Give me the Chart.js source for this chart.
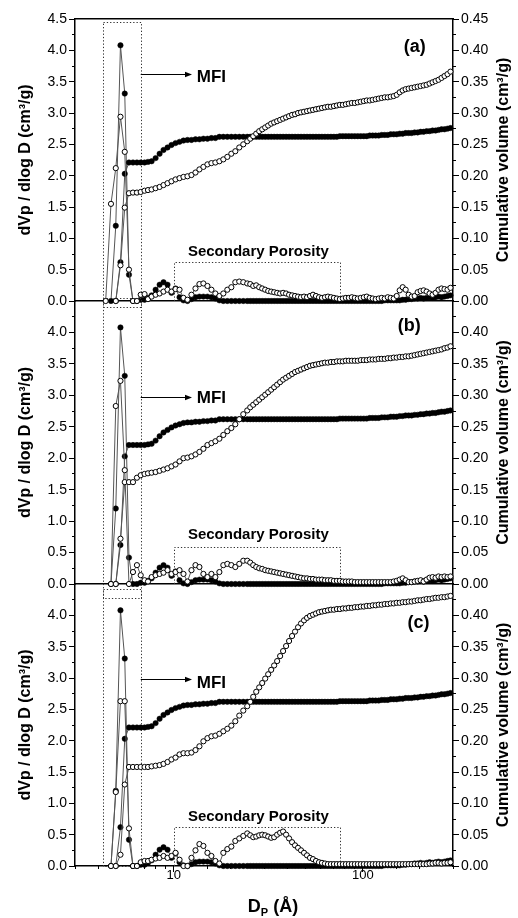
<!DOCTYPE html>
<html><head><meta charset="utf-8">
<script src="https://cdn.jsdelivr.net/npm/chart.js@4.4.1/dist/chart.umd.min.js"></script>
<style>
html,body{margin:0;padding:0;background:#fff;}
#wrap{position:relative;width:518px;height:918px;overflow:hidden;}
canvas{position:absolute;left:0;top:0;}
</style></head><body>
<div id="wrap">
<canvas id="ca" width="518" height="918"></canvas>
<canvas id="cb" width="518" height="918"></canvas>
<canvas id="cc" width="518" height="918"></canvas>
</div>
<script>
// Pore diameter D_P (Å) – shared by all series
const poreDiameter = [
 4.36, 4.65, 4.93, 5.22, 5.50, 5.79, 6.08, 6.38, 6.68, 7.00,
 7.30, 7.63, 8.01, 8.41, 8.82, 9.26, 9.72, 10.21, 10.72, 11.25,
 11.81, 12.40, 13.02, 13.66, 14.34, 15.06, 15.81, 16.59, 17.42, 18.28,
 19.19, 20.15, 21.15, 22.20, 23.31, 24.46, 25.37, 26.31, 27.29, 28.30,
 29.35, 30.44, 31.57, 32.74, 33.95, 35.21, 36.51, 37.86, 39.27, 40.72,
 42.23, 43.79, 45.42, 47.10, 48.87, 50.68, 52.55, 54.50, 56.52, 58.62,
 60.79, 63.04, 65.38, 67.80, 70.31, 72.92, 75.62, 78.42, 81.33, 84.34,
 87.47, 90.71, 94.07, 97.56, 101.2, 104.9, 108.8, 112.8, 117.0, 121.4,
 125.9, 130.6, 135.5, 140.5, 145.7, 151.1, 156.7, 162.5, 168.5, 174.8,
 181.3, 188.0, 195.0, 202.2, 209.7, 217.5, 225.5, 233.9, 242.6, 251.5,
 260.9, 270.5, 280.5, 290.9
];
// MFI reference (filled symbols) – same in all three panels
const dvFilled = [
 null, 0, 1.20, 4.08, 3.31, 0.42, 0, 0, 0.02, 0.02,
 0.05, 0.09, 0.18, 0.26, 0.30, 0.26, 0.13, 0.20, 0.06, 0.01,
 0, 0.03, 0.06, 0.07, 0.07, 0.07, 0.06, 0.04, 0.01, 0,
 0, 0, 0, 0, 0, 0, 0, 0, 0, 0,
 0, 0, 0, 0, 0, 0, 0, 0, 0, 0,
 0, 0, 0, 0, 0, 0, 0, 0, 0, 0,
 0, 0, 0, 0, 0, 0, 0, 0, 0, 0,
 0, 0, 0, 0, 0, 0, 0, 0, 0, 0,
 0, 0.01, 0.01, 0.01, 0.01, 0.01, 0.01, 0.02, 0.02, 0.03,
 0.03, 0.04, 0.04, 0.05, 0.04, 0.05, 0.06, 0.05, 0.06, 0.07,
 0.06, 0.07, 0.08, 0.09
];
const cumFilled = [
 null, null, 0, 0.062, 0.203, 0.221, 0.221, 0.221, 0.221, 0.221,
 0.222, 0.223, 0.228, 0.235, 0.241, 0.245, 0.249, 0.252, 0.254, 0.256,
 0.257, 0.257, 0.258, 0.258, 0.259, 0.259, 0.260, 0.260, 0.262, 0.262,
 0.262, 0.262, 0.262, 0.262, 0.262, 0.262, 0.262, 0.262, 0.262, 0.262,
 0.262, 0.262, 0.262, 0.262, 0.262, 0.262, 0.262, 0.262, 0.262, 0.262,
 0.262, 0.262, 0.262, 0.262, 0.262, 0.262, 0.262, 0.262, 0.262, 0.262,
 0.262, 0.262, 0.262, 0.262, 0.262, 0.262, 0.263, 0.263, 0.263, 0.263,
 0.263, 0.263, 0.263, 0.263, 0.263, 0.263, 0.264, 0.264, 0.264, 0.264,
 0.265, 0.265, 0.265, 0.266, 0.266, 0.266, 0.267, 0.267, 0.268, 0.268,
 0.268, 0.269, 0.269, 0.270, 0.270, 0.271, 0.271, 0.272, 0.272, 0.273,
 0.274, 0.274, 0.275, 0.276
];
// Sample (a) – open symbols
const dvOpenA = [
 0, 1.55, 2.12, 2.94, 2.38, 0.50, 0, 0, 0.10, 0.11,
 0.03, 0.07, 0.10, 0.12, 0.15, 0.18, 0.15, 0.19, 0.18, 0.05,
 0.02, 0.10, 0.20, 0.27, 0.28, 0.24, 0.18, 0.12, 0.08, 0.12,
 0.18, 0.22, 0.30, 0.31, 0.30, 0.28, 0.27, 0.24, 0.25, 0.22,
 0.20, 0.18, 0.16, 0.15, 0.14, 0.13, 0.12, 0.13, 0.12, 0.10,
 0.09, 0.08, 0.07, 0.06, 0.07, 0.06, 0.08, 0.10, 0.08, 0.06,
 0.05, 0.06, 0.07, 0.06, 0.05, 0.04, 0.03, 0.04, 0.05, 0.05,
 0.06, 0.05, 0.04, 0.05, 0.06, 0.07, 0.05, 0.04, 0.03, 0.04,
 0.05, 0.04, 0.06, 0.05, 0.04, 0.08, 0.17, 0.22, 0.18, 0.10,
 0.07, 0.08, 0.14, 0.16, 0.17, 0.15, 0.12, 0.10, 0.13, 0.18,
 0.20, 0.19, 0.18, 0.21
];
const cumOpenA = [
 null, null, 0, 0.057, 0.149, 0.172, 0.173, 0.173, 0.174, 0.176,
 0.177, 0.178, 0.180, 0.182, 0.185, 0.188, 0.191, 0.194, 0.196, 0.198,
 0.199, 0.201, 0.205, 0.210, 0.214, 0.218, 0.220, 0.221, 0.223, 0.226,
 0.230, 0.235, 0.239, 0.245, 0.250, 0.255, 0.259, 0.263, 0.267, 0.271,
 0.274, 0.277, 0.280, 0.283, 0.285, 0.287, 0.289, 0.291, 0.293, 0.295,
 0.297, 0.298, 0.300, 0.301, 0.302, 0.303, 0.304, 0.305, 0.306, 0.307,
 0.308, 0.309, 0.310, 0.310, 0.311, 0.312, 0.313, 0.313, 0.314, 0.315,
 0.316, 0.316, 0.317, 0.318, 0.319, 0.320, 0.320, 0.321, 0.322, 0.323,
 0.324, 0.325, 0.325, 0.326, 0.327, 0.329, 0.333, 0.336, 0.338, 0.339,
 0.340, 0.341, 0.342, 0.343, 0.344, 0.345, 0.347, 0.349, 0.351, 0.353,
 0.356, 0.359, 0.362, 0.366
];
// Sample (b) – open symbols
const dvOpenB = [
 null, 0, 2.83, 3.23, 1.81, 0, 0.19, 0.30, 0.14, 0.06,
 0.04, 0.11, 0.14, 0.16, 0.18, 0.22, 0.16, 0.19, 0.22, 0.16,
 0.04, 0.22, 0.30, 0.27, 0.16, 0.11, 0.16, 0.11, 0.19, 0.30,
 0.32, 0.30, 0.27, 0.32, 0.37, 0.37, 0.34, 0.30, 0.27, 0.25,
 0.24, 0.22, 0.21, 0.20, 0.19, 0.18, 0.17, 0.16, 0.15, 0.14,
 0.13, 0.12, 0.11, 0.10, 0.09, 0.09, 0.08, 0.08, 0.07, 0.07,
 0.07, 0.06, 0.06, 0.06, 0.05, 0.05, 0.05, 0.04, 0.04, 0.04,
 0.04, 0.03, 0.03, 0.03, 0.03, 0.03, 0.03, 0.03, 0.03, 0.03,
 0.03, 0.03, 0.03, 0.03, 0.04, 0.05, 0.07, 0.09, 0.06, 0.03,
 0.03, 0.04, 0.05, 0.06, 0.04, 0.07, 0.10, 0.11, 0.10, 0.12,
 0.11, 0.12, 0.11, 0.12
];
const cumOpenB = [
 null, null, 0, 0.072, 0.162, 0.162, 0.162, 0.169, 0.173, 0.175,
 0.176, 0.177, 0.178, 0.180, 0.182, 0.184, 0.187, 0.190, 0.195, 0.200,
 0.201, 0.203, 0.206, 0.210, 0.215, 0.221, 0.224, 0.227, 0.231, 0.237,
 0.243, 0.248, 0.254, 0.262, 0.270, 0.276, 0.281, 0.285, 0.289, 0.293,
 0.297, 0.301, 0.305, 0.309, 0.313, 0.317, 0.321, 0.325, 0.328, 0.331,
 0.334, 0.337, 0.339, 0.341, 0.343, 0.345, 0.347, 0.348, 0.349, 0.350,
 0.351, 0.352, 0.352, 0.353, 0.353, 0.354, 0.354, 0.354, 0.355, 0.355,
 0.355, 0.355, 0.355, 0.356, 0.356, 0.356, 0.357, 0.357, 0.357, 0.358,
 0.358, 0.358, 0.359, 0.359, 0.360, 0.360, 0.361, 0.361, 0.362, 0.362,
 0.363, 0.364, 0.365, 0.366, 0.367, 0.368, 0.369, 0.370, 0.371, 0.372,
 0.373, 0.375, 0.376, 0.378
];
// Sample (c) – open symbols
const dvOpenC = [
 null, 0, 1.18, 2.63, 2.63, 0.60, 0, 0, 0.06, 0.08,
 0.08, 0.10, 0.12, 0.13, 0.16, 0.13, 0.16, 0.21, 0.10, 0,
 0, 0.13, 0.25, 0.35, 0.32, 0.21, 0.16, 0.08, 0.04, 0.21,
 0.27, 0.31, 0.40, 0.44, 0.48, 0.52, 0.49, 0.46, 0.47, 0.49,
 0.50, 0.49, 0.47, 0.45, 0.46, 0.50, 0.53, 0.55, 0.50, 0.44,
 0.38, 0.33, 0.29, 0.25, 0.21, 0.17, 0.13, 0.11, 0.08, 0.06,
 0.05, 0.04, 0.03, 0.03, 0.03, 0.03, 0.03, 0.03, 0.03, 0.03,
 0.03, 0.03, 0.03, 0.03, 0.03, 0.03, 0.03, 0.03, 0.03, 0.03,
 0.03, 0.03, 0.03, 0.03, 0.03, 0.03, 0.03, 0.03, 0.03, 0.03,
 0.03, 0.03, 0.03, 0.03, 0.03, 0.03, 0.04, 0.04, 0.05, 0.05,
 0.04, 0.05, 0.05, 0.06
];
const cumOpenC = [
 null, null, 0, 0.018, 0.130, 0.158, 0.158, 0.158, 0.158, 0.158,
 0.158, 0.159, 0.160, 0.161, 0.163, 0.166, 0.170, 0.173, 0.178, 0.180,
 0.180, 0.181, 0.185, 0.191, 0.199, 0.204, 0.207, 0.208, 0.211, 0.215,
 0.219, 0.224, 0.231, 0.240, 0.248, 0.255, 0.262, 0.270, 0.278, 0.285,
 0.292, 0.299, 0.306, 0.313, 0.320, 0.327, 0.335, 0.343, 0.351, 0.359,
 0.367, 0.374, 0.381, 0.387, 0.392, 0.396, 0.399, 0.401, 0.403, 0.405,
 0.406, 0.407, 0.408, 0.409, 0.409, 0.410, 0.410, 0.411, 0.411, 0.412,
 0.412, 0.413, 0.413, 0.414, 0.414, 0.415, 0.415, 0.416, 0.416, 0.417,
 0.417, 0.418, 0.418, 0.419, 0.419, 0.420, 0.420, 0.421, 0.421, 0.422,
 0.422, 0.423, 0.424, 0.424, 0.425, 0.426, 0.426, 0.427, 0.428, 0.428,
 0.429, 0.429, 0.430, 0.431
];
// Axis tick settings / labels
const xTickLabels = [10, 100];
const leftRange = [0, 4.5], leftStep = 0.5, leftMinor = 0.25;
const rightRange = [0, 0.45], rightStep = 0.05, rightMinor = 0.025;
const xRange = [3, 300];
// Annotation anchor values (data units)
const mfiRegion = [4.21, 6.68];
const secondaryRegion = [10, 75.6];

const FONT = "'Liberation Sans', Arial, Helvetica, sans-serif";

const panels = [
  {canvas:'ca', tag:'(a)', dvOpen:dvOpenA, cumOpen:cumOpenA, padTop:19, padBottom:617, bottomH:0, showX:false, showTop:true, hideTop:false,
   ann:{tag:[188,4.05], mfi:[15.8,3.57], arrowY:3.62, mfiBox:[4.45,-0.1], secTop:0.62}},
  {canvas:'cb', tag:'(b)', dvOpen:dvOpenB, cumOpen:cumOpenB, padTop:301, padBottom:334, bottomH:0, showX:false, showTop:false, hideTop:true,
   ann:{tag:[176,4.1], mfi:[15.8,2.96], arrowY:2.98, mfiBox:[4.55,-0.22], secTop:0.59}},
  {canvas:'cc', tag:'(c)', dvOpen:dvOpenC, cumOpen:cumOpenC, padTop:584, padBottom:0, bottomH:52, showX:true, showTop:false, hideTop:true,
   ann:{tag:[197,3.88], mfi:[15.8,2.92], arrowY:2.98, mfiBox:[4.42,0], secTop:0.62}}
];

function pts(vals){ return poreDiameter.map((d,i)=>({x:d, y:vals[i]})); }

function annotPlugin(p){
  return {
    id:'ann_'+p.canvas,
    beforeDatasetsDraw(chart){
      const {ctx, scales:{x, y}} = chart; const a = p.ann;
      const X = v=>x.getPixelForValue(v), Y = v=>y.getPixelForValue(v);
      ctx.save();
      ctx.strokeStyle='#333'; ctx.lineWidth=1; ctx.setLineDash([1.3,2]);
      const x1 = Math.round(X(mfiRegion[0]))+0.5, x2 = Math.round(X(mfiRegion[1]))+0.5;
      const y1 = Math.round(Y(a.mfiBox[0]))+0.5, y2 = Math.round(Y(a.mfiBox[1]))+0.5;
      ctx.strokeRect(x1, y1, x2-x1, y2-y1);
      const s1 = Math.round(X(secondaryRegion[0]))+0.5, s2 = Math.round(X(secondaryRegion[1]))+0.5;
      const st = Math.round(Y(a.secTop))+0.5, sb = Y(0);
      ctx.beginPath(); ctx.moveTo(s1, sb); ctx.lineTo(s1, st); ctx.lineTo(s2, st); ctx.lineTo(s2, sb); ctx.stroke();
      ctx.restore();
    },
    afterDraw(chart){
      const {ctx, scales:{x, y}, chartArea} = chart; const a = p.ann;
      const X = v=>x.getPixelForValue(v), Y = v=>y.getPixelForValue(v);
      ctx.save();
      const ay = Math.round(Y(a.arrowY))+0.5, ax1 = X(mfiRegion[1]), ax2 = 192;
      ctx.strokeStyle='#000'; ctx.fillStyle='#000'; ctx.lineWidth=1;
      ctx.beginPath(); ctx.moveTo(ax1, ay); ctx.lineTo(ax2-5, ay); ctx.stroke();
      ctx.beginPath(); ctx.moveTo(ax2, ay); ctx.lineTo(ax2-7, ay-2.8); ctx.lineTo(ax2-7, ay+2.8); ctx.closePath(); ctx.fill();
      ctx.textAlign='center'; ctx.textBaseline='middle';
      ctx.font='bold 17px '+FONT; ctx.fillText('MFI', X(a.mfi[0]), Y(a.mfi[1]));
      ctx.font='bold 15px '+FONT; ctx.fillText('Secondary Porosity', X(28), Y(0.78));
      ctx.font='bold 18px '+FONT; ctx.fillText(p.tag, X(a.tag[0]), Y(a.tag[1]));
      ctx.save(); ctx.translate(504, (chartArea.top+chartArea.bottom)/2); ctx.rotate(-Math.PI/2);
      ctx.font='bold 16px '+FONT; ctx.fillText('Cumulative volume (cm³/g)', 0, 0); ctx.restore();
      if (p.showX){
        const big='bold 18px '+FONT, small='bold 11px '+FONT;
        ctx.textAlign='left'; ctx.textBaseline='alphabetic';
        ctx.font=big; const wD=ctx.measureText('D').width, wR=ctx.measureText(' (Å)').width;
        ctx.font=small; const wP=ctx.measureText('P').width;
        let sx = 273 - (wD+wP+wR)/2; const by = 912;
        ctx.font=big; ctx.fillText('D', sx, by); sx+=wD;
        ctx.font=small; ctx.fillText('P', sx, by+4); sx+=wP;
        ctx.font=big; ctx.fillText(' (Å)', sx, by);
      }
      ctx.restore();
    }
  };
}

function makeChart(p){
  const ds = (label, vals, axis, filled, order) => ({
    label, data: pts(vals), yAxisID: axis, xAxisID:'x',
    showLine:true, borderColor:'#555', borderWidth:1, tension:0, fill:false, spanGaps:false,
    pointRadius: filled?2.7:2.6, pointHoverRadius: 2.7,
    pointBackgroundColor: filled?'#000':'#fff', pointBorderColor:'#000', pointBorderWidth: filled?0.5:1,
    clip:6, order
  });
  const tickGrid = (len, show=true) => ({display:show, drawOnChartArea:false, drawTicks:true, tickLength:len, tickColor:'#000', tickWidth:1});
  const border = {display:true, color:'#000', width:1.5};
  new Chart(document.getElementById(p.canvas), {
    type:'scatter',
    data:{datasets:[
      ds('dV/dlogD MFI', dvFilled, 'y', true, 3),
      ds('Cumulative MFI', cumFilled, 'yRight', true, 2),
      ds('dV/dlogD sample', p.dvOpen, 'y', false, 1),
      ds('Cumulative sample', p.cumOpen, 'yRight', false, 0)
    ]},
    options:{
      responsive:false, animation:false, devicePixelRatio:1, events:[],
      layout:{padding:{top:p.padTop, bottom:p.padBottom, left:0, right:0}},
      plugins:{legend:{display:false}, tooltip:{enabled:false}},
      scales:{
        x:{type:'logarithmic', axis:'x', position:'bottom', min:xRange[0], max:xRange[1], weight:1,
           afterBuildTicks:s=>{ s.ticks = xTickLabels.map(v=>({value:v, major:true})); },
           afterFit:s=>{ s.height = p.bottomH; },
           ticks:{display:p.showX, autoSkip:false, maxRotation:0, padding:-4, color:'#000', font:{family:FONT, size:13}, callback:v=>String(v)},
           grid:{display:true, drawOnChartArea:false, drawTicks:p.showX, tickLength:6, tickColor:'#000', tickWidth:1},
           border},
        xMinor:{type:'logarithmic', axis:'x', position:'bottom', min:xRange[0], max:xRange[1], weight:0, display:p.showX,
           afterFit:s=>{ s.height = 0; },
           ticks:{display:false, autoSkip:false}, grid:tickGrid(3), border:{display:false}},
        xTop:{type:'logarithmic', axis:'x', position:'top', min:xRange[0], max:xRange[1], display:p.showTop,
           afterFit:s=>{ s.height = 0; },
           ticks:{display:false}, grid:{display:true, drawOnChartArea:false, drawTicks:false}, border},
        y:{type:'linear', axis:'y', position:'left', min:leftRange[0], max:leftRange[1], weight:1,
           afterFit:s=>{ s.width = 75; },
           ticks:{stepSize:leftStep, autoSkip:false, padding:2, color:'#000', font:{family:FONT, size:14},
             callback:v=> (p.hideTop && Math.abs(v-leftRange[1])<1e-9) ? '' : Number(v).toFixed(1)},
           grid:tickGrid(6), border,
           title:{display:true, text:'dVp / dlog D (cm³/g)', color:'#000', font:{family:FONT, size:16, weight:'bold'}, padding:{top:16, bottom:0}}},
        yMinor:{type:'linear', axis:'y', position:'left', min:leftRange[0], max:leftRange[1], weight:0,
           afterFit:s=>{ s.width = 0; },
           ticks:{display:false, stepSize:leftMinor, autoSkip:false}, grid:tickGrid(3), border:{display:false}},
        yRight:{type:'linear', axis:'y', position:'right', min:rightRange[0], max:rightRange[1], weight:1,
           afterFit:s=>{ s.width = 65; },
           ticks:{stepSize:rightStep, autoSkip:false, padding:2, color:'#000', font:{family:FONT, size:14},
             callback:v=> (p.hideTop && Math.abs(v-rightRange[1])<1e-9) ? '' : Number(v).toFixed(2)},
           grid:tickGrid(6), border},
        yRightMinor:{type:'linear', axis:'y', position:'right', min:rightRange[0], max:rightRange[1], weight:0,
           afterFit:s=>{ s.width = 0; },
           ticks:{display:false, stepSize:rightMinor, autoSkip:false}, grid:tickGrid(3), border:{display:false}}
      }
    },
    plugins:[annotPlugin(p)]
  });
}
panels.forEach(makeChart);
</script>
</body></html>
